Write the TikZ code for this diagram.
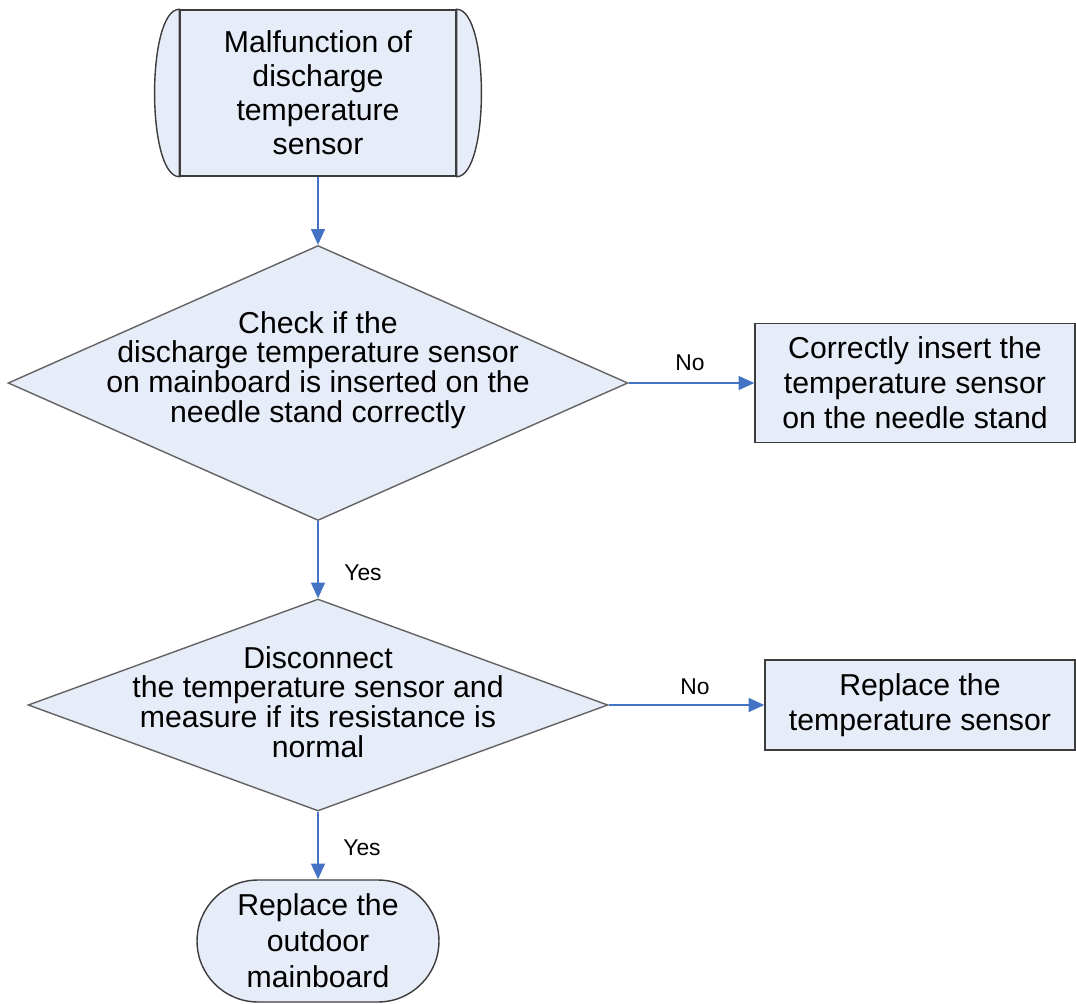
\documentclass[tikz,border=0pt]{standalone}
\usepackage{fontspec}
\setmainfont{Liberation Sans}
\usetikzlibrary{arrows.meta,shapes.geometric,shapes.misc}
\definecolor{boxfill}{RGB}{230,236,248}
\definecolor{flowblue}{RGB}{68,114,196}
\definecolor{edgegray}{RGB}{60,60,60}

\begin{document}
\begin{tikzpicture}[x=0.02cm, y=-0.02cm,
  proc/.style={rectangle, draw=edgegray, fill=boxfill, line width=0.8pt,
               inner sep=0pt, align=center, font=\fontsize{17.2}{20}\selectfont},
  dec/.style={diamond, draw=edgegray!80, fill=boxfill, line width=0.8pt,
              inner sep=0pt},
  dectxt/.style={align=center, font=\fontsize{17.2}{17}\selectfont},
  term/.style={rounded rectangle, draw=edgegray, fill=boxfill, line width=0.8pt,
               inner sep=0pt, align=center, font=\fontsize{17.2}{20.5}\selectfont},
  yn/.style={font=\fontsize{13}{14}\selectfont},
  arr/.style={-{Triangle[length=9pt,width=8pt]}, draw=flowblue, line width=0.8pt},
]
\useasboundingbox (0,0) rectangle (1076,1004);

% start block with curved side caps
\node[proc, minimum width=5.52cm, minimum height=3.32cm,
      font=\fontsize{17.2}{19.4}\selectfont] (start) at (318,93)
  {Malfunction of\\discharge\\temperature\\sensor};
\filldraw[draw=edgegray, fill=boxfill, line width=0.8pt]
  (start.north west) .. controls +(-33,0) and +(-33,0) .. (start.south west) -- cycle;
\filldraw[draw=edgegray, fill=boxfill, line width=0.8pt]
  (start.north east) .. controls +(33,0) and +(33,0) .. (start.south east) -- cycle;

% first check
\node[dec, minimum width=12.4cm, minimum height=5.5cm] (plug) at (318,383) {};
\node[dectxt] (plugtxt) at (318,370)
  {Check if the\\discharge temperature sensor\\on mainboard is inserted on the\\needle stand correctly};
\node[proc, minimum width=6.4cm, minimum height=2.38cm] (insert) at (915,383)
  {Correctly insert the\\temperature sensor\\on the needle stand};

% second check
\node[dec, minimum width=11.6cm, minimum height=4.24cm] (meas) at (318,705) {};
\node[dectxt] (meastxt) at (318,702)
  {Disconnect\\the temperature sensor and\\measure if its resistance is\\normal};
\node[proc, minimum width=6.2cm, minimum height=1.8cm] (sensor) at (920,705)
  {Replace the\\temperature sensor};

% end
\node[term, minimum width=4.84cm, minimum height=2.44cm] (board) at (318,941)
  {Replace the\\outdoor\\mainboard};

% connectors
\draw[arr] (start.south) -- (plug.north);
\draw[arr] (plug.east) -- (insert.west);
\draw[arr] (plug.south) -- (meas.north);
\draw[arr] (meas.east) -- (sensor.west);
\draw[arr] (meas.south) -- (board.north);

% branch labels
\node[yn] (no1) at (690,363) {No};
\node[yn] (yes1) at (363,573) {Yes};
\node[yn] (no2) at (695,687) {No};
\node[yn] (yes2) at (362,848) {Yes};
\end{tikzpicture}
\end{document}
